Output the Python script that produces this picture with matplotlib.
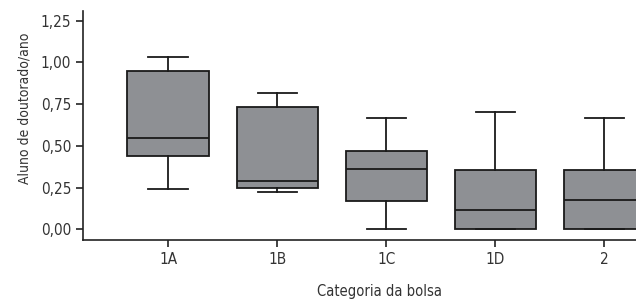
import matplotlib
matplotlib.use("Agg")
import matplotlib.pyplot as plt

# Data
categories = ['1A', '1B', '1C', '1D', '2']
whisker_low = [0.241, 0.223, 0.0, 0.0, 0.0]
q1 = [0.437, 0.249, 0.168, 0.0, 0.0]
median = [0.549, 0.291, 0.361, 0.114, 0.176]
q3 = [0.947, 0.733, 0.467, 0.353, 0.353]
whisker_high = [1.034, 0.818, 0.669, 0.701, 0.669]
y_ticks = [0.0, 0.25, 0.5, 0.75, 1.0, 1.25]
y_tick_labels = ['0,00', '0,25', '0,50', '0,75', '1,00', '1,25']

plt.rcParams['font.family'] = ['DejaVu Sans']
plt.rcParams['font.stretch'] = 'condensed'

fig = plt.figure(figsize=(6.36, 3.01), dpi=100)
ax = fig.add_axes([83 / 636, 1 - 240 / 301, 1 - 83 / 636, (240 - 11) / 301])

stats = []
for i in range(len(categories)):
    stats.append({'whislo': whisker_low[i], 'q1': q1[i], 'med': median[i],
                  'q3': q3[i], 'whishi': whisker_high[i], 'fliers': [],
                  'label': categories[i]})

ax.bxp(stats, positions=range(len(categories)), widths=0.745, capwidths=0.36,
       patch_artist=True, showfliers=False,
       boxprops=dict(facecolor='#8e9094', edgecolor='#1a1a1a', linewidth=1.3),
       medianprops=dict(color='#1a1a1a', linewidth=1.3),
       whiskerprops=dict(color='#1a1a1a', linewidth=1.3),
       capprops=dict(color='#1a1a1a', linewidth=1.3))

ax.set_xlim(-0.78, 4.29)
ax.set_ylim(-0.064, 1.308)
ax.set_yticks(y_ticks)
ax.set_yticklabels(y_tick_labels)
ax.spines['top'].set_visible(False)
ax.spines['right'].set_visible(False)
for s in ['left', 'bottom']:
    ax.spines[s].set_linewidth(1.2)
    ax.spines[s].set_color('#222222')
ax.tick_params(length=5, width=1.2, color='#222222', labelsize=11, labelcolor='#333333')
ax.set_xlabel('Categoria da bolsa', fontsize=10.5, color='#333333')
ax.set_ylabel('Aluno de doutorado/ano', fontsize=10, color='#333333')
ax.xaxis.set_label_coords(0.537, -0.19)
ax.yaxis.set_label_coords(-0.094, 0.574)

fig.savefig('out.png', dpi=100)
